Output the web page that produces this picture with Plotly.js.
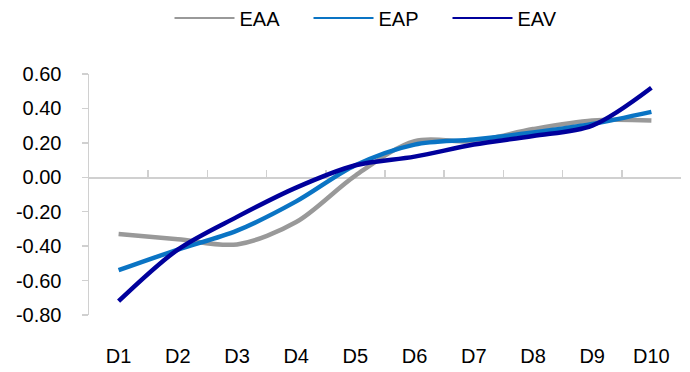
<!DOCTYPE html>
<html>
<head>
<meta charset="utf-8">
<script src="https://cdn.plot.ly/plotly-3.0.1.min.js"></script>
<style>html,body{margin:0;padding:0;background:#fff;}#chart{width:690px;height:372px;}</style>
</head>
<body>
<div id="chart"></div>
<script>
const categories = ['D1','D2','D3','D4','D5','D6','D7','D8','D9','D10'];
const eaa = [-0.33, -0.36, -0.39, -0.26, 0.01, 0.21, 0.21, 0.28, 0.33, 0.33];
const eap = [-0.54, -0.42, -0.31, -0.14, 0.07, 0.19, 0.22, 0.26, 0.31, 0.38];
const eav = [-0.72, -0.42, -0.23, -0.06, 0.07, 0.12, 0.19, 0.24, 0.30, 0.52];
const seriesNames = ['EAA', 'EAP', 'EAV'];
const seriesColors = ['#999999', '#0A74C4', '#00009C'];
const yTicks = [0.6, 0.4, 0.2, 0, -0.2, -0.4, -0.6, -0.8];

const font = {family: 'Liberation Sans, Arial, sans-serif', color: '#000'};
const fs = 20;
const series = [eaa, eap, eav];
const data = [];
series.forEach((y, i) => {
  data.push({
    x: categories, y: y, name: seriesNames[i], type: 'scatter', mode: 'lines',
    line: {color: seriesColors[i], width: 4.5, shape: 'spline', smoothing: 0.9},
    showlegend: false, hoverinfo: 'skip'
  });
});
// legend entries (thin sample lines as in the reference)
series.forEach((y, i) => {
  data.push({
    x: [null], y: [null], name: seriesNames[i], type: 'scatter', mode: 'lines',
    line: {color: seriesColors[i], width: 2}, showlegend: true
  });
});

const zeroPos = 0.8 / 1.4;
const layout = {
  width: 690, height: 372,
  margin: {l: 89, r: 9, t: 74, b: 57},
  paper_bgcolor: '#fff', plot_bgcolor: 'rgba(0,0,0,0)',
  font: Object.assign({size: fs}, font),
  showlegend: true,
  legend: {orientation: 'h', x: 378 / 690, xref: 'container', xanchor: 'center',
           y: 1 - 18 / 372, yref: 'container', yanchor: 'middle',
           font: Object.assign({size: fs}, font), itemwidth: 60,
           entrywidth: 64, entrywidthmode: 'pixels', traceorder: 'normal'},
  xaxis: {type: 'category', categoryarray: categories, categoryorder: 'array',
          range: [-0.5, 9.5], anchor: 'free', position: zeroPos, automargin: false,
          showline: true, linecolor: '#d0d0d0', linewidth: 1.5, layer: 'below traces',
          ticks: 'inside', tickson: 'boundaries', ticklen: 7, tickcolor: '#d0d0d0', tickwidth: 1.5,
          showgrid: false, zeroline: false,
          ticklabelstandoff: 160, tickfont: Object.assign({size: fs}, font)},
  yaxis: {range: [-0.8, 0.6], tickvals: yTicks, ticktext: yTicks.map(v => v.toFixed(2)),
          showgrid: false, zeroline: false, showline: true, linecolor: '#d0d0d0', linewidth: 1.5,
          layer: 'below traces',
          ticks: 'outside', ticklen: 6, tickcolor: '#d0d0d0', tickwidth: 1.5, ticklabelstandoff: 16,
          automargin: false, tickfont: Object.assign({size: fs}, font)}
};
Plotly.newPlot('chart', data, layout, {displayModeBar: false, staticPlot: true});
</script>
</body>
</html>
